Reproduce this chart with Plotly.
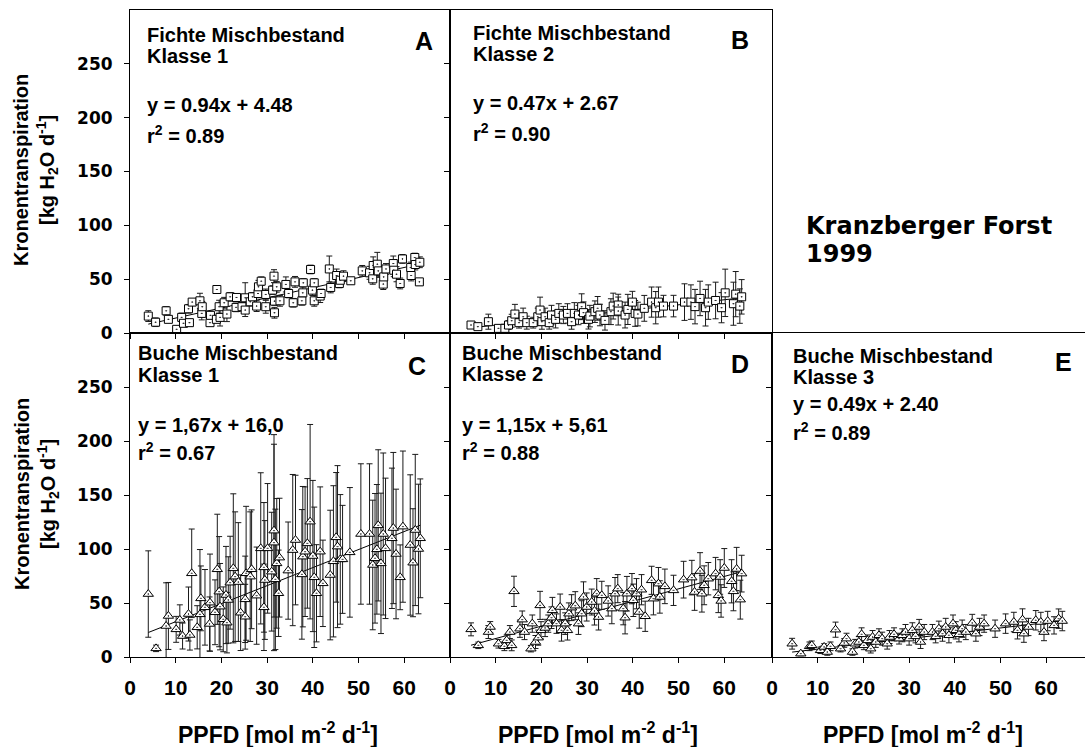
import plotly.graph_objects as go

# ---------------- data ----------------
# Panel A: Fichte Mischbestand Klasse 1
A_X = [4.0, 5.6, 7.9, 8.4, 10.2, 11.3, 11.7, 13.0, 12.8, 13.6, 15.3, 15.7, 15.8, 17.5, 17.6, 19.0, 18.9, 19.5,
       19.7, 20.6, 21.2, 21.9, 23.3, 23.2, 24.5, 25.2, 25.2, 26.3, 26.8, 27.7, 28.0, 28.1, 28.7, 29.7, 29.7,
       31.2, 31.5, 31.6, 31.6, 32.1, 32.8, 34.1, 34.7, 35.7, 36.1, 37.6, 37.9, 37.8, 39.5, 39.9, 40.3, 40.3,
       41.6, 41.8, 43.6, 43.9, 45.2, 45.8, 46.0, 46.7, 48.3, 50.8, 52.4, 53.1, 53.2, 54.1, 54.3, 55.4, 55.5,
       56.0, 57.6, 57.7, 58.3, 59.1, 59.6, 61.4, 61.5, 62.3, 62.4, 63.4, 63.3]
A_Y = [15.7, 10.0, 20.6, 12.7, 3.4, 14.5, 9.0, 9.6, 22.5, 28.7, 29.9, 18.2, 24.4, 9.6, 16.4, 40.4, 12.7, 24.4,
       14.5, 28.1, 17.6, 33.6, 33.0, 23.8, 24.4, 32.7, 21.3, 29.0, 33.6, 25.0, 36.7, 42.9, 48.1, 35.8, 24.4,
       39.8, 52.8, 29.6, 18.8, 42.9, 29.9, 45.1, 36.7, 28.1, 47.5, 29.9, 46.6, 37.3, 59.0, 39.8, 29.9, 46.6,
       34.3, 36.7, 59.5, 42.3, 53.4, 46.0, 49.0, 52.8, 48.5, 57.7, 55.9, 50.3, 62.7, 63.9, 57.7, 45.4, 52.1,
       59.5, 64.5, 58.3, 54.6, 46.0, 68.8, 60.8, 53.4, 70.1, 63.6, 65.7, 47.5]
A_E = [5, 4, 4, 3, 3, 4, 3, 3, 4, 3, 7, 6, 5, 3, 4, 3, 3, 6,
       8, 5, 7, 4, 3, 4, 4, 14, 6, 4, 4, 5, 4, 6, 4, 5, 6,
       4, 6, 4, 5, 5, 5, 7, 4, 4, 5, 4, 4, 6, 4, 5, 5, 4,
       6, 4, 12, 5, 6, 4, 4, 5, 3, 5, 6, 5, 8, 11, 6, 5, 6,
       5, 7, 6, 7, 5, 4, 5, 5, 4, 5, 5, 3]

# Panel B: Fichte Mischbestand Klasse 2
B_X = [4.6, 6.1, 8.4, 10.6, 12.0, 12.8, 13.5, 14.2, 15.1, 16.0, 16.8, 18.2, 19.2, 19.7, 20.1, 20.8, 21.7, 22.2,
       23.1, 23.8, 24.8, 25.7, 26.6, 27.2, 28.1, 28.8, 29.2, 30.3, 30.6, 31.7, 32.3, 32.8, 33.9, 35.2, 35.7,
       36.8, 36.8, 38.3, 38.9, 39.9, 40.5, 41.1, 42.5, 44.1, 45.0, 45.6, 46.7, 48.9, 51.3, 52.7, 53.6, 54.7,
       55.9, 56.5, 58.1, 59.4, 60.2, 62.0, 62.5, 63.4, 63.8]
B_Y = [7.4, 5.9, 10.5, 4.3, 4.3, 7.4, 11.4, 17.6, 9.6, 15.1, 9.6, 9.6, 15.1, 21.3, 10.5, 15.1, 9.6, 16.7,
       12.7, 18.2, 16.7, 18.2, 10.5, 18.2, 16.7, 24.4, 18.9, 12.7, 15.7, 19.8, 22.9, 16.7, 11.7, 19.8, 25.0,
       26.0, 20.4, 16.7, 21.9, 28.7, 18.2, 17.6, 22.9, 28.7, 23.5, 28.7, 25.0, 25.0, 28.7, 28.7, 24.5, 32.1,
       23.5, 28.7, 30.2, 23.5, 37.3, 27.2, 36.1, 25.0, 33.6]
B_E = [2, 2, 7, 2, 3, 4, 6, 9, 5, 8, 6, 5, 8, 12, 7, 8, 6, 9,
       8, 9, 8, 9, 7, 10, 9, 12, 10, 9, 10, 10, 11, 10, 9, 12, 12,
       10, 13, 12, 14, 10, 12, 11, 12, 14, 15, 14, 10, 10, 17, 16, 16, 16,
       17, 16, 17, 14, 22, 20, 21, 16, 16]

# Panel C: Buche Mischbestand Klasse 1
C_X = [4.0, 5.7, 7.9, 8.4, 10.1, 10.9, 11.5, 12.8, 13.1, 13.5, 14.7, 15.3, 15.5, 16.4, 17.4, 17.5, 18.6, 19.1,
       19.5, 19.7, 20.4, 21.0, 21.2, 21.5, 21.9, 22.6, 23.0, 23.7, 24.2, 25.2, 25.2, 25.4, 26.3, 26.6, 27.7,
       28.6, 29.3, 29.3, 29.5, 30.1, 31.0, 31.5, 31.5, 31.8, 32.1, 32.5, 32.7, 34.6, 35.6, 36.2, 37.6, 37.8,
       38.3, 38.8, 39.4, 40.0, 40.3, 40.8, 41.6, 42.2, 43.8, 44.5, 45.1, 45.4, 46.0, 46.5, 48.1, 50.5, 52.4,
       53.1, 53.6, 54.0, 54.3, 54.9, 55.4, 55.9, 57.3, 57.6, 58.2, 59.1, 59.7, 61.3, 61.9, 62.4, 63.1, 63.5]
C_Y = [58.3, 8.0, 28.7, 38.0, 25.6, 34.3, 19.4, 39.8, 20.4, 77.5, 27.5, 39.5, 54.3, 46.0, 30.6, 50.3, 41.4, 81.2,
       60.5, 46.6, 34.9, 57.4, 31.8, 52.8, 68.8, 82.1, 74.4, 69.4, 41.0, 37.3, 53.4, 77.5, 74.4, 81.2, 56.8,
       100.6, 46.0, 83.0, 71.3, 100.6, 79.0, 105.9, 117.0, 71.9, 86.7, 59.0, 92.0, 80.0, 99.0, 108.3, 76.5, 92.9,
       97.5, 105.2, 125.3, 93.5, 73.8, 59.0, 97.5, 68.2, 75.9, 88.6, 110.8, 102.2, 90.4, 90.4, 96.9, 113.9, 113.9,
       85.2, 91.4, 99.7, 121.9, 86.7, 113.9, 100.6, 109.9, 119.4, 95.4, 73.8, 120.7, 103.7, 87.3, 117.6, 100.0, 109.9]
C_E = [40, 3, 40, 31, 12, 14, 12, 25, 14, 41, 20, 60, 30, 35, 25, 45, 30, 51,
       51, 40, 30, 45, 28, 40, 43, 69, 60, 55, 35, 30, 40, 62, 60, 55, 45,
       70, 40, 60, 55, 60, 55, 100, 80, 65, 60, 40, 55, 45, 70, 60, 60, 65,
       60, 60, 90, 70, 65, 45, 60, 40, 60, 70, 60, 75, 60, 50, 60, 65, 65,
       60, 60, 60, 70, 65, 75, 65, 65, 70, 60, 30, 70, 65, 50, 70, 60, 55]

# Panel D: Buche Mischbestand Klasse 2
D_X = [4.6, 6.2, 8.4, 8.8, 10.6, 11.9, 12.4, 13.1, 13.5, 14.0, 15.3, 15.8, 16.3, 17.7, 18.0, 18.7, 19.3, 19.7,
       19.9, 20.8, 21.5, 22.2, 22.4, 23.3, 24.1, 24.4, 25.2, 25.7, 26.0, 26.6, 27.4, 28.1, 28.8, 29.2, 29.9,
       31.0, 31.6, 32.1, 32.5, 33.2, 34.6, 35.4, 36.1, 36.7, 37.9, 38.3, 38.7, 39.8, 40.1, 40.8, 41.4, 41.9,
       42.7, 44.1, 44.5, 45.6, 45.9, 47.0, 48.9, 51.1, 52.9, 53.5, 54.7, 55.1, 55.6, 56.5, 58.1, 58.7, 59.1,
       59.3, 60.0, 61.6, 62.0, 62.7, 63.5, 63.8]
D_Y = [25.6, 10.8, 23.1, 27.8, 12.3, 9.9, 15.4, 23.1, 10.8, 60.8, 26.2, 34.6, 23.1, 7.7, 30.9, 13.9, 17.9, 47.8,
       24.7, 26.9, 30.9, 36.4, 43.2, 30.9, 46.3, 24.7, 30.9, 24.7, 40.1, 45.7, 47.5, 30.9, 40.1, 55.6, 46.3,
       50.9, 42.6, 58.6, 37.0, 57.1, 51.9, 44.8, 58.6, 63.3, 44.8, 36.4, 58.6, 63.3, 52.5, 58.6, 41.7, 62.3,
       37.7, 71.0, 54.0, 67.9, 55.6, 65.4, 61.7, 71.6, 73.5, 60.2, 79.6, 58.6, 66.4, 72.5, 77.2, 57.1, 74.1,
       51.9, 82.4, 70.1, 60.8, 81.5, 53.1, 77.2]
D_E = [6, 3, 6, 5, 4, 4, 5, 6, 5, 14, 8, 8, 7, 3, 8, 6, 7, 13,
       8, 8, 8, 10, 12, 9, 12, 10, 10, 9, 10, 12, 13, 10, 12, 14, 13,
       12, 13, 14, 12, 13, 14, 14, 15, 13, 15, 15, 16, 14, 15, 14, 15, 14,
       14, 13, 15, 15, 15, 16, 14, 17, 16, 17, 17, 17, 18, 15, 15, 16, 16,
       15, 18, 20, 18, 20, 18, 17]

# Panel E: Buche Mischbestand Klasse 3
E_X = [4.4, 6.3, 8.2, 8.7, 10.6, 11.4, 12.1, 12.8, 13.9, 15.0, 15.8, 16.3, 17.6, 18.2, 19.0, 19.6, 20.1, 20.9,
       21.6, 22.0, 22.7, 23.4, 24.1, 25.2, 25.7, 26.7, 27.8, 28.5, 29.2, 30.0, 30.7, 31.4, 32.2, 32.5, 33.3,
       35.1, 35.8, 36.5, 37.3, 38.0, 38.7, 39.6, 40.2, 40.9, 41.6, 42.4, 43.8, 44.6, 45.4, 46.4, 48.8, 51.1,
       52.9, 53.7, 54.8, 55.1, 56.1, 57.7, 58.8, 59.5, 60.3, 61.7, 62.7, 63.5]
E_Y = [12.3, 3.1, 9.9, 10.8, 6.2, 9.3, 4.6, 9.9, 25.3, 7.7, 13.0, 17.0, 4.6, 12.3, 13.9, 21.0, 10.8, 15.4,
       7.7, 18.5, 13.9, 20.1, 17.0, 12.3, 18.5, 21.0, 17.0, 20.1, 23.1, 17.0, 24.7, 19.1, 27.8, 13.9, 23.1,
       23.1, 19.1, 26.2, 21.6, 27.8, 20.1, 30.9, 24.7, 21.0, 26.2, 23.1, 31.5, 21.6, 27.8, 30.9, 26.2, 30.9,
       32.4, 24.7, 34.6, 21.6, 27.8, 34.0, 32.4, 23.1, 33.3, 29.3, 35.5, 33.3]
E_E = [5, 2, 4, 4, 3, 3, 3, 4, 7, 3, 4, 5, 3, 4, 5, 6, 4, 5,
       4, 6, 5, 6, 6, 5, 6, 6, 5, 6, 7, 6, 7, 6, 7, 6, 7,
       7, 6, 7, 7, 8, 7, 8, 8, 7, 8, 7, 8, 7, 8, 8, 8, 9,
       9, 8, 10, 8, 8, 9, 9, 8, 9, 8, 9, 9]

SLOPES = [0.94, 0.47, 1.67, 1.15, 0.49]
INTERCEPTS = [4.48, 2.67, 16.0, 5.61, 2.40]
SPECIES = ["Fichte Mischbestand", "Fichte Mischbestand", "Buche Mischbestand", "Buche Mischbestand", "Buche Mischbestand"]
KLASSE = ["Klasse 1", "Klasse 2", "Klasse 1", "Klasse 2", "Klasse 3"]
EQUATIONS = ["y = 0.94x + 4.48", "y = 0.47x + 2.67", "y = 1,67x + 16,0", "y = 1,15x + 5,61", "y = 0.49x + 2.40"]
R2 = ["0.89", "0.90", "0.67", "0.88", "0.89"]
LETTERS = ["A", "B", "C", "D", "E"]
X_TICKS = [0, 10, 20, 30, 40, 50, 60]
Y_TICKS = [0, 50, 100, 150, 200, 250]

# ---------------- layout geometry ----------------
WIDTH, HEIGHT = 1085, 747
ML, MR, MT, MB = 130, 0, 10, 90
PW, PH = WIDTH - ML - MR, HEIGHT - MT - MB


def pxx(px):
    return (px - ML) / PW


def pxy(py):
    return (HEIGHT - MB - py) / PH


PX_PER_X = 320 / 70.0
col_px = [(130, 450), (450, 772), (772, 1085)]
row_top = [pxy(333), 1.0]
row_bot = [0.0, pxy(333)]

panels = [
    dict(x=A_X, y=A_Y, e=A_E, col=0, row=row_top, sym="square-dot", size=8),
    dict(x=B_X, y=B_Y, e=B_E, col=1, row=row_top, sym="square-dot", size=8),
    dict(x=C_X, y=C_Y, e=C_E, col=0, row=row_bot, sym="triangle-up-dot", size=9),
    dict(x=D_X, y=D_Y, e=D_E, col=1, row=row_bot, sym="triangle-up-dot", size=9),
    dict(x=E_X, y=E_Y, e=E_E, col=2, row=row_bot, sym="triangle-up-dot", size=9),
]

fig = go.Figure()
layout_axes = {}
TICKFONT_X = dict(family="Liberation Sans", size=21, color="black", weight="bold")
TICKFONT_Y = dict(family="DejaVu Sans", size=17, color="black", weight="bold")

for i, p in enumerate(panels):
    n = i + 1
    xa = "x" if n == 1 else f"x{n}"
    ya = "y" if n == 1 else f"y{n}"
    # regression line
    xs = [min(p["x"]), max(p["x"])]
    ys = [SLOPES[i] * v + INTERCEPTS[i] for v in xs]
    fig.add_trace(go.Scatter(x=xs, y=ys, mode="lines", line=dict(color="black", width=1),
                             xaxis=xa, yaxis=ya, showlegend=False, hoverinfo="skip"))
    fig.add_trace(go.Scatter(
        x=p["x"], y=p["y"], mode="markers",
        marker=dict(symbol=p["sym"], size=p["size"], color="white",
                    line=dict(color="black", width=1)),
        error_y=dict(type="data", array=p["e"], visible=True, color="#1a1a1a", thickness=1, width=3),
        xaxis=xa, yaxis=ya, showlegend=False))

    c0, c1 = col_px[p["col"]]
    xmax = (c1 - c0) / PX_PER_X
    bottom_row = p["row"] is row_bot
    left_col = p["col"] == 0
    xkey = "xaxis" if n == 1 else f"xaxis{n}"
    ykey = "yaxis" if n == 1 else f"yaxis{n}"
    layout_axes[xkey] = dict(
        domain=[pxx(c0), pxx(c1)], anchor=ya, range=[0, xmax],
        tickvals=X_TICKS, ticks="outside", ticklen=5, tickcolor="black",
        showline=True, linecolor="black", linewidth=1, mirror=True,
        showgrid=False, zeroline=False, showticklabels=bottom_row,
        tickfont=TICKFONT_X, ticklabelstandoff=7)
    layout_axes[ykey] = dict(
        domain=p["row"], anchor=xa, range=[0, 300],
        tickvals=Y_TICKS, ticks="outside", ticklen=5, tickcolor="black",
        showline=True, linecolor="black", linewidth=1, mirror=(p["col"] != 2),
        showgrid=False, zeroline=False, showticklabels=left_col,
        tickfont=TICKFONT_Y, ticklabelstandoff=8)

ann = []
BF = "Liberation Sans"


def text(px, py, s, size, family=BF, xanchor="left", yanchor="middle", angle=0):
    ann.append(dict(x=pxx(px), y=pxy(py), xref="paper", yref="paper", text=s, showarrow=False,
                    xanchor=xanchor, yanchor=yanchor, textangle=angle,
                    font=dict(family=family, size=size, color="black", weight="bold")))


# panel texts: (left x, species y, klasse y, eq y, r2 y, letter x, letter y)
POS = [
    (145, 35, 56.5, 105, 134, 424, 41),
    (471, 33, 54, 103, 132, 740, 40),
    (136, 353, 375, 425, 452, 417, 366),
    (460, 353, 374, 425, 452, 740, 364),
    (791, 356, 377, 404, 431, 1063, 362),
]
for i, (lx, sy, ky, ey, ry, ax, ay) in enumerate(POS):
    text(lx, sy, SPECIES[i], 20)
    text(lx, ky, KLASSE[i], 20)
    text(lx, ey, EQUATIONS[i], 20)
    text(lx, ry, "r<sup>2</sup> = " + R2[i], 20)
    text(ax, ay, LETTERS[i], 25, xanchor="center")

text(804, 226, "Kranzberger Forst", 24, family="DejaVu Sans")
text(804, 254, "1999", 24, family="DejaVu Sans")

YT = "Kronentranspiration<br>[kg H<sub>2</sub>O d<sup>-1</sup>]"
text(36, 170, YT, 20, xanchor="center", angle=-90)
text(36, 494, YT, 20, xanchor="center", angle=-90)

XT = "PPFD [mol m<sup>-2</sup> d<sup>-1</sup>]"
for cx in [278, 598, 923]:
    text(cx, 733, XT, 23, xanchor="center")

fig.update_layout(
    width=WIDTH, height=HEIGHT,
    margin=dict(l=ML, r=MR, t=MT, b=MB, pad=0),
    paper_bgcolor="white", plot_bgcolor="white",
    annotations=ann, showlegend=False,
    **layout_axes)

fig.write_html("out.html")
